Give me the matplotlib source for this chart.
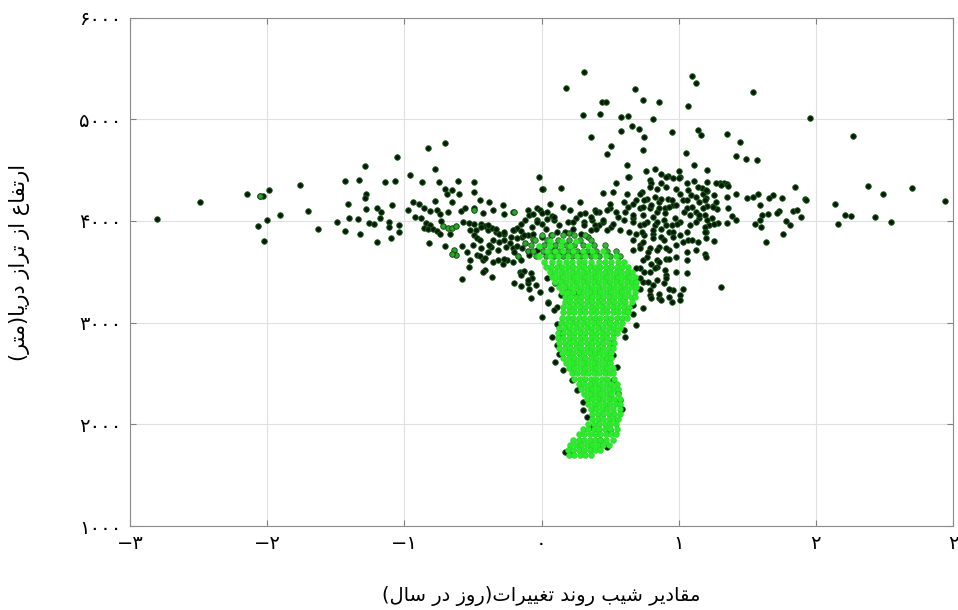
import matplotlib
matplotlib.use("Agg")
import matplotlib.pyplot as plt
import numpy as np

# slope of change (day/yr) vs elevation (m)
left_wing = [
    (-2.80, 4014), (-2.49, 4184), (-2.15, 4269), (-2.05, 4246), (-2.03, 4248), (-1.99, 4305),
    (-2.07, 3951), (-2.00, 4007), (-2.02, 3803), (-1.91, 4059), (-1.76, 4351), (-1.70, 4102),
    (-1.63, 3925), (-1.49, 3990), (-1.43, 4397), (-1.41, 4171), (-1.40, 4027), (-1.43, 3896),
    (-1.34, 4020), (-1.33, 4400), (-1.29, 4535), (-1.28, 4263), (-1.29, 4230), (-1.28, 4115),
    (-1.32, 3876), (-1.26, 3977), (-1.22, 3968), (-1.20, 4125), (-1.17, 4086), (-1.18, 4024),
    (-1.20, 3788), (-1.14, 4381), (-1.07, 4397), (-1.05, 4626), (-1.09, 4157), (-1.11, 3990),
    (-1.11, 3941), (-1.04, 3958), (-1.04, 3886), (-1.10, 3833), (-0.96, 4452), (-0.97, 4105),
]

left_centre = [
    (-0.83, 4712), (-0.70, 4767), (-0.78, 4515), (-0.87, 4378), (-0.75, 4387), (-0.61, 4393),
    (-0.49, 4378), (-0.02, 4427), (0.01, 4309), (-0.70, 4315), (-0.65, 4302), (-0.60, 4269),
    (-0.69, 4262), (-0.49, 4285), (-0.94, 4184), (-0.89, 4164), (-0.86, 4122), (-0.78, 4197),
    (-0.65, 4187), (-0.81, 4095), (-0.76, 4105), (-0.74, 4066), (-0.68, 4089), (-0.59, 4095),
    (-0.56, 4122), (-0.49, 4122), (-0.45, 4204), (-0.38, 4187), (-0.28, 4154), (-0.43, 4082),
    (-0.35, 4105), (-0.27, 4066), (-0.21, 4092), (-0.10, 4105), (-0.09, 4056), (-0.03, 4122),
    (-0.01, 4105), (0.06, 4164), (-0.92, 4039), (-0.88, 4024), (-0.84, 3980), (-0.81, 3958),
    (-0.86, 3935), (-0.83, 3925), (-0.79, 3925), (-0.73, 4000), (-0.76, 3902), (-0.74, 3869),
    (-0.67, 3869), (-0.57, 3990), (-0.53, 3980), (-0.52, 3915), (-0.48, 3915), (-0.44, 3967),
    (-0.41, 3948), (-0.39, 3915), (-0.49, 3859), (-0.47, 3836), (-0.45, 3817), (-0.82, 3784),
    (-0.70, 3751), (-0.58, 3751), (-0.54, 3695), (-0.52, 3620), (-0.53, 3548), (-0.47, 3663),
    (-0.45, 3653), (-0.43, 3614), (-0.41, 3640), (-0.39, 3695), (-0.37, 3744), (-0.36, 3935),
    (-0.33, 3892), (-0.31, 3869), (-0.27, 3876), (-0.35, 3817), (-0.31, 3794), (-0.27, 3817),
    (-0.41, 3522), (-0.36, 3449), (-0.58, 3424), (-0.32, 3620), (-0.28, 3574), (-0.25, 3614),
    (-0.23, 3778), (-0.21, 3729), (-0.18, 3751), (-0.20, 3915), (-0.18, 3935), (-0.15, 3902),
    (-0.14, 3843), (-0.10, 3859), (-0.16, 3499), (-0.15, 3483), (-0.13, 3508), (-0.08, 3489),
    (-0.07, 3443), (-0.20, 3385), (-0.15, 3358), (-0.10, 3390), (-0.06, 4066), (-0.03, 4007),
    (0.00, 3974), (0.04, 4014), (0.08, 4046),
    (0.28, 4181), (0.32, 4073), (0.39, 4105), (0.00, 4073),
    (-0.49, 3974), (-0.44, 3941), (-0.39, 3958), (-0.33, 3925), (-0.27, 3892), (-0.21, 3909),
    (-0.15, 3974), (-0.12, 4007), (-0.07, 3941), (-0.03, 3990), (0.03, 3925), (0.09, 4007),
    (0.13, 3958), (0.19, 3990), (0.25, 4024), (0.31, 3990), (0.37, 4007), (0.42, 3958),
    (-0.22, 3843), (-0.18, 3827), (-0.13, 3859), (-0.06, 3876), (0.00, 3843), (0.07, 3859),
    (0.11, 3892), (0.17, 3892), (0.23, 3925), (0.29, 3876), (0.36, 3909),
    (-0.50, 3761), (-0.44, 3729), (-0.38, 3761), (-0.32, 3712), (-0.26, 3745), (-0.20, 3695),
    (-0.14, 3729), (-0.09, 3663), (-0.03, 3712), (0.03, 3680), (0.09, 3729), (0.15, 3680),
    (0.21, 3712), (0.27, 3663), (0.33, 3695), (-0.35, 3597), (-0.27, 3630), (-0.21, 3597),
    (-0.15, 3614), (-0.43, 3499), (-0.15, 3466), (-0.10, 3417), (-0.09, 3335), (-0.04, 3368),
    (-0.01, 3302), (0.04, 3434), (0.07, 3335), (0.10, 3385), (0.14, 3270), (0.19, 3335),
    (0.25, 3286), (-0.08, 3237), (0.05, 3204), (0.11, 3155),
]

top_cluster = [
    (0.31, 5469), (0.18, 5304), (0.68, 5298), (1.10, 5422), (1.13, 5354), (0.44, 5167),
    (0.47, 5174), (0.74, 5184), (0.86, 5170), (1.07, 5131), (0.30, 5042), (0.43, 5052),
    (0.58, 5026), (0.63, 5029), (0.81, 5000), (0.66, 4931), (0.71, 4905), (0.58, 4885),
    (0.75, 4826), (0.95, 4875), (1.14, 4889), (1.16, 4843), (0.36, 4823), (0.51, 4741),
    (0.74, 4702), (0.48, 4653), (1.05, 4669), (0.62, 4551), (1.11, 4548), (0.64, 4430),
    (0.76, 4486), (0.83, 4515), (0.87, 4462), (0.92, 4439), (0.96, 4423), (1.00, 4492),
    (1.01, 4427), (1.06, 4374), (1.11, 4390), (0.54, 4371), (0.79, 4400), (0.80, 4368),
    (1.30, 4368), (1.33, 4374),
]

right_wing = [
    (1.54, 5268), (1.96, 5010), (1.35, 4850), (1.45, 4771), (1.42, 4639), (1.49, 4613),
    (1.57, 4600), (1.21, 4501), (2.27, 4833), (2.38, 4348), (2.49, 4265), (2.70, 4321),
    (2.94, 4194), (2.14, 4164), (2.21, 4059), (2.26, 4046), (2.43, 4043), (2.55, 3987),
    (2.16, 3971), (1.85, 4334), (1.92, 4220), (1.93, 4204), (1.75, 4226), (1.69, 4253),
    (1.66, 4226), (1.58, 4260), (1.54, 4236), (1.50, 4230), (1.59, 4154), (1.42, 4269),
    (1.35, 4236), (1.31, 4351), (1.35, 4361), (1.36, 4348), (1.21, 4292), (1.17, 4328),
    (1.18, 4269), (1.20, 4230), (1.21, 4145), (1.25, 4151), (1.27, 4181), (1.28, 4115),
    (1.36, 4128), (1.19, 4056), (1.24, 4029), (1.29, 3984), (1.35, 3980), (1.39, 4046),
    (1.42, 4010), (1.61, 4059), (1.65, 4066), (1.73, 4102), (1.72, 4076), (1.83, 4102),
    (1.86, 4105), (1.89, 4039), (1.56, 3974), (1.59, 4007), (1.60, 3941), (1.78, 3997),
    (1.81, 3964), (1.76, 3869), (1.64, 3791), (1.20, 3892), (1.26, 3800), (1.19, 3673),
    (1.20, 3646), (1.31, 3351),
]

right_centre = [
    (0.63, 4433), (0.91, 4433), (1.00, 4417), (0.14, 4325), (0.00, 4318), (0.84, 4318),
    (0.73, 4285), (0.98, 4318), (0.52, 4285), (0.45, 4279), (0.60, 4187), (0.63, 4138),
    (0.69, 4204), (0.77, 4220), (0.83, 4236), (0.86, 4187), (0.92, 4220), (0.96, 4154),
    (1.03, 4204), (1.09, 4253), (1.15, 4187), (0.72, 4122), (0.79, 4122), (0.84, 4089),
    (0.90, 4122), (1.06, 4122), (1.13, 4089), (0.16, 4138), (0.21, 4105), (0.28, 4063),
    (0.36, 4039), (0.42, 4089), (0.50, 4122), (0.56, 4039), (0.04, 4089), (0.09, 4039),
    (0.23, 3990), (0.31, 3958), (0.39, 3958), (0.45, 3990), (0.51, 3941), (0.60, 4007),
    (0.67, 4024), (0.72, 3958), (0.77, 3990), (0.83, 3958), (0.89, 4007), (0.95, 3958),
    (1.01, 3990), (1.08, 3958), (1.15, 4024), (1.22, 3958), (0.69, 3876), (0.75, 3859),
    (0.81, 3876), (0.87, 3843), (0.93, 3892), (1.01, 3859), (1.07, 3810), (1.14, 3794),
    (1.20, 3827), (0.72, 3761), (0.79, 3729), (0.86, 3745), (0.93, 3712), (0.98, 3761),
    (1.06, 3695), (1.13, 3712), (0.77, 3646), (0.84, 3614), (0.91, 3630), (0.98, 3646),
    (1.06, 3614), (0.72, 3532), (0.79, 3499), (0.84, 3548), (0.91, 3466), (0.98, 3499),
    (1.06, 3483), (0.74, 3400), (0.81, 3368), (0.89, 3385), (0.96, 3319), (1.03, 3335),
    (0.79, 3270), (0.86, 3237), (0.95, 3204),
    (1.21, 4383), (0.87, 4374), (0.79, 4334), (0.91, 4334), (1.07, 4302), (1.14, 4334),
    (1.20, 4302), (1.27, 4368), (0.62, 4269), (0.72, 4269), (0.75, 4204), (0.87, 4220),
    (0.95, 4204), (1.01, 4269), (1.06, 4204), (1.13, 4236), (1.19, 4204), (1.26, 4253),
    (0.50, 4171), (0.67, 4171), (0.74, 4138), (0.80, 4154), (0.86, 4122), (0.93, 4138),
    (0.98, 4154), (1.04, 4089), (1.10, 4138), (1.18, 4122), (1.25, 4138), (0.40, 4089),
    (0.48, 4105), (0.54, 4089), (0.61, 4089), (0.67, 4056), (0.74, 4056), (0.81, 4039),
    (0.90, 4073), (0.97, 4024), (1.08, 4056), (1.15, 4056), (1.21, 4007), (0.45, 4007),
    (0.52, 3974), (0.67, 3990), (0.75, 3974), (0.84, 3990), (0.91, 3958), (0.99, 3974),
    (1.13, 3990), (1.19, 3941), (1.26, 3974), (0.40, 3925), (0.48, 3909), (0.57, 3909),
    (0.64, 3892), (0.73, 3892), (0.81, 3909), (0.87, 3925), (0.96, 3892), (1.06, 3892),
    (1.19, 3892), (0.67, 3810), (0.74, 3794), (0.81, 3827), (0.89, 3810), (0.96, 3843),
    (1.03, 3794), (1.10, 3810), (0.67, 3712), (0.72, 3729), (0.78, 3695), (0.84, 3712),
    (0.91, 3729), (0.93, 3630), (0.74, 3614), (0.80, 3581), (0.86, 3597), (0.69, 3532),
    (0.75, 3499), (0.83, 3532), (0.90, 3515), (0.72, 3434), (0.78, 3400), (0.84, 3417),
    (0.91, 3434), (0.72, 3335), (0.79, 3319), (0.86, 3286), (0.93, 3335), (1.01, 3270),
    (0.80, 3237), (0.87, 3220), (0.93, 3253), (0.67, 3171), (0.74, 3139), (1.01, 3220),
]

tail_edges = [
    (0.00, 3056), (0.08, 2860), (0.10, 2614), (0.22, 2434), (0.30, 2220), (0.33, 2073),
    (0.61, 2860), (0.52, 2680), (0.59, 2155), (0.17, 1729), (0.22, 1713), (0.05, 3188),
    (0.09, 3122), (0.11, 2991), (0.14, 2893), (0.11, 2778), (0.13, 2696), (0.16, 2532),
    (0.26, 2336), (0.30, 2139), (0.36, 1975), (0.52, 2434), (0.56, 2303), (0.57, 2237),
    (0.50, 1942), (0.43, 1844), (0.48, 1778), (0.67, 3089), (0.69, 2975), (0.60, 2926),
    (0.51, 2795), (0.55, 2565),
]

mid_pts = [
    (-0.49, 4110), (-0.72, 3948), (-0.68, 3935), (-0.65, 3935), (-0.62, 3948),
    (-0.64, 3712), (-0.62, 3663), (-0.65, 3679), (-0.20, 4092), (-2.05, 4246),
    (-0.12, 3780), (-0.06, 3820), (-0.10, 3700), (-0.17, 3650), (0.20, 3880), (0.34, 3840),
]

# upper, looser part of the core (medium green)
core_upper = {
    3860: [0.00, 0.08, 0.16, 0.24, 0.32],
    3810: [-0.05, 0.04, 0.12, 0.20, 0.28, 0.36],
    3760: [-0.08, 0.02, 0.10, 0.18, 0.24, 0.30, 0.38, 0.46],
    3700: [-0.06, 0.01, 0.06, 0.13, 0.19, 0.26, 0.33, 0.40, 0.48, 0.54],
    3650: [-0.04, 0.03, 0.09, 0.16, 0.22, 0.29, 0.36, 0.42, 0.50, 0.57],
}

# dense bright core, one row per elevation level
core_rows = {
    3800: [0.06, 0.15, 0.25],
    3750: [-0.02, 0.06, 0.14, 0.21, 0.34],
    3700: [0.04, 0.10, 0.16, 0.23, 0.30, 0.37, 0.45],
    3650: [-0.02, 0.06, 0.12, 0.19, 0.26, 0.32, 0.39, 0.47, 0.54],
    3600: [0.02, 0.08, 0.13, 0.18, 0.22, 0.27, 0.31, 0.36, 0.42, 0.46, 0.51, 0.56, 0.60],
    3550: [0.03, 0.07, 0.11, 0.15, 0.19, 0.23, 0.27, 0.31, 0.35, 0.39, 0.43, 0.47, 0.51, 0.55, 0.59, 0.63],
    3500: [0.06, 0.10, 0.14, 0.18, 0.22, 0.26, 0.30, 0.34, 0.38, 0.42, 0.46, 0.50, 0.54, 0.58, 0.62, 0.66],
    3450: [0.08, 0.12, 0.16, 0.20, 0.24, 0.28, 0.32, 0.36, 0.40, 0.44, 0.48, 0.52, 0.56, 0.60, 0.64, 0.68],
    3400: [0.10, 0.14, 0.18, 0.22, 0.26, 0.30, 0.34, 0.38, 0.42, 0.46, 0.50, 0.54, 0.58, 0.62, 0.66, 0.69],
    3350: [0.13, 0.17, 0.21, 0.25, 0.29, 0.33, 0.37, 0.41, 0.45, 0.49, 0.53, 0.57, 0.61, 0.65, 0.69],
    3300: [0.15, 0.19, 0.23, 0.27, 0.31, 0.35, 0.39, 0.43, 0.47, 0.51, 0.55, 0.59, 0.63, 0.68],
    3250: [0.17, 0.21, 0.25, 0.29, 0.33, 0.37, 0.41, 0.45, 0.49, 0.53, 0.57, 0.61, 0.65, 0.68],
    3200: [0.17, 0.21, 0.25, 0.29, 0.33, 0.37, 0.41, 0.45, 0.49, 0.53, 0.57, 0.61, 0.66],
    3150: [0.16, 0.20, 0.24, 0.28, 0.32, 0.36, 0.40, 0.44, 0.48, 0.52, 0.56, 0.60, 0.64],
    3100: [0.16, 0.20, 0.24, 0.28, 0.32, 0.36, 0.40, 0.44, 0.48, 0.52, 0.56, 0.60, 0.63],
    3050: [0.15, 0.19, 0.23, 0.27, 0.31, 0.35, 0.39, 0.43, 0.47, 0.51, 0.55, 0.59, 0.62],
    3000: [0.14, 0.18, 0.22, 0.26, 0.30, 0.34, 0.38, 0.42, 0.46, 0.50, 0.54, 0.59],
    2950: [0.13, 0.17, 0.21, 0.25, 0.29, 0.33, 0.37, 0.41, 0.45, 0.49, 0.53, 0.57],
    2900: [0.12, 0.16, 0.20, 0.24, 0.28, 0.32, 0.36, 0.40, 0.44, 0.48, 0.52, 0.55],
    2850: [0.12, 0.16, 0.20, 0.24, 0.28, 0.32, 0.36, 0.40, 0.44, 0.48, 0.52],
    2800: [0.13, 0.17, 0.21, 0.25, 0.29, 0.33, 0.37, 0.41, 0.45, 0.49, 0.53],
    2750: [0.13, 0.17, 0.21, 0.25, 0.29, 0.33, 0.37, 0.41, 0.45, 0.49, 0.52],
    2700: [0.15, 0.19, 0.23, 0.27, 0.31, 0.35, 0.39, 0.43, 0.47, 0.51],
    2650: [0.16, 0.20, 0.24, 0.28, 0.32, 0.36, 0.40, 0.44, 0.48, 0.51],
    2600: [0.18, 0.22, 0.26, 0.30, 0.34, 0.38, 0.42, 0.46, 0.50],
    2550: [0.20, 0.24, 0.28, 0.32, 0.36, 0.40, 0.44, 0.48, 0.52],
    2500: [0.22, 0.26, 0.30, 0.34, 0.38, 0.42, 0.46, 0.50, 0.52],
    2450: [0.24, 0.28, 0.32, 0.36, 0.40, 0.44, 0.48, 0.53],
    2400: [0.27, 0.31, 0.35, 0.39, 0.43, 0.47, 0.51, 0.55],
    2350: [0.29, 0.33, 0.37, 0.41, 0.45, 0.49, 0.53, 0.56],
    2300: [0.31, 0.35, 0.39, 0.43, 0.47, 0.51, 0.56],
    2250: [0.33, 0.37, 0.41, 0.45, 0.49, 0.53, 0.57],
    2200: [0.34, 0.38, 0.42, 0.46, 0.50, 0.54, 0.57],
    2150: [0.36, 0.40, 0.44, 0.48, 0.52, 0.57],
    2100: [0.37, 0.41, 0.45, 0.49, 0.53, 0.57],
    2050: [0.37, 0.41, 0.45, 0.49, 0.53, 0.56],
    2000: [0.34, 0.38, 0.42, 0.46, 0.50, 0.54],
    1950: [0.30, 0.34, 0.38, 0.42, 0.46, 0.50, 0.55],
    1900: [0.27, 0.31, 0.35, 0.39, 0.43, 0.47, 0.51, 0.54],
    1850: [0.23, 0.27, 0.31, 0.35, 0.39, 0.43, 0.47, 0.52],
    1800: [0.21, 0.25, 0.29, 0.33, 0.37, 0.41, 0.45, 0.49],
    1750: [0.19, 0.23, 0.27, 0.31, 0.35, 0.39, 0.43],
    1700: [0.20, 0.24, 0.28, 0.32, 0.36],
}

x_ticks = [-3, -2, -1, 0, 1, 2, 3]
x_ticklabels = ["\u2212۳", "\u2212۲", "\u2212۱", "۰", "۱", "۲", "۲"]
y_ticks = [1000, 2000, 3000, 4000, 5000, 6000]
y_ticklabels = ["۱۰۰۰", "۲۰۰۰", "۳۰۰۰", "۴۰۰۰", "۵۰۰۰", "۶۰۰۰"]
x_label = "مقادیر شیب روند تغییرات(روز در سال)"
y_label = "ارتفاع از تراز دریا(متر)"

# presentation forms: isolated, final, initial, medial
FORMS = {
    "ا": ("\uFE8D", "\uFE8E", None, None),
    "ب": ("\uFE8F", "\uFE90", "\uFE91", "\uFE92"),
    "ت": ("\uFE95", "\uFE96", "\uFE97", "\uFE98"),
    "د": ("\uFEA9", "\uFEAA", None, None),
    "ر": ("\uFEAD", "\uFEAE", None, None),
    "ز": ("\uFEAF", "\uFEB0", None, None),
    "س": ("\uFEB1", "\uFEB2", "\uFEB3", "\uFEB4"),
    "ش": ("\uFEB5", "\uFEB6", "\uFEB7", "\uFEB8"),
    "ع": ("\uFEC9", "\uFECA", "\uFECB", "\uFECC"),
    "غ": ("\uFECD", "\uFECE", "\uFECF", "\uFED0"),
    "ف": ("\uFED1", "\uFED2", "\uFED3", "\uFED4"),
    "ق": ("\uFED5", "\uFED6", "\uFED7", "\uFED8"),
    "ل": ("\uFEDD", "\uFEDE", "\uFEDF", "\uFEE0"),
    "م": ("\uFEE1", "\uFEE2", "\uFEE3", "\uFEE4"),
    "ن": ("\uFEE5", "\uFEE6", "\uFEE7", "\uFEE8"),
    "و": ("\uFEED", "\uFEEE", None, None),
    "ی": ("\uFBFC", "\uFBFD", "\uFBFE", "\uFBFF"),
}


def shape_rtl(text):
    # matplotlib has no shaping/bidi, so join letters and reverse by hand
    out = []
    for i, ch in enumerate(text):
        if ch not in FORMS:
            out.append(ch)
            continue
        iso, fin, ini, med = FORMS[ch]
        prev = text[i - 1] if i > 0 else ""
        nxt = text[i + 1] if i + 1 < len(text) else ""
        join_prev = prev in FORMS and FORMS[prev][2] is not None
        join_next = ini is not None and nxt in FORMS
        if join_prev and join_next:
            out.append(med)
        elif join_prev:
            out.append(fin)
        elif join_next:
            out.append(ini)
        else:
            out.append(iso)
    s = "".join(reversed(out))
    return s.translate(str.maketrans("()", ")("))


def rows_to_xy(rows):
    xs = [x for y, row in rows.items() for x in row]
    ys = [y for y, row in rows.items() for x in row]
    return np.array(xs), np.array(ys)


plt.rcParams["font.family"] = ["DejaVu Sans"]

dark = np.array(left_wing + left_centre + top_cluster + right_wing + right_centre + tail_edges)
mid = np.array(mid_pts)
up_x, up_y = rows_to_xy(core_upper)
core_x, core_y = rows_to_xy(core_rows)

fig = plt.figure(figsize=(9.58, 6.10), dpi=100)
ax = fig.add_axes([130 / 958, 1 - 526 / 610, 823 / 958, 508.5 / 610])

ax.scatter(dark[:, 0], dark[:, 1], s=16, c="#071a07", edgecolors="#1e5e1e",
           linewidths=0.6, zorder=3)
ax.scatter(mid[:, 0], mid[:, 1], s=16, c="#2aa52a", edgecolors="#0c3a0c",
           linewidths=0.6, zorder=3)
ax.scatter(up_x, up_y, s=16, c="#30b830", edgecolors="#145214",
           linewidths=0.5, zorder=3)
ax.scatter(core_x, core_y, s=18, c="#2bec2b", edgecolors="#27c827",
           linewidths=0.3, zorder=4)

ax.set_xlim(-3, 3)
ax.set_ylim(1000, 6000)
ax.set_xticks(x_ticks)
ax.set_xticklabels(x_ticklabels, fontsize=14)
ax.set_yticks(y_ticks)
ax.set_yticklabels(y_ticklabels, fontsize=14)
ax.tick_params(direction="in", top=True, right=True, length=4, width=0.8,
               color="#808080", pad=6)
ax.grid(True, color="#e0e0e0", linewidth=0.8)
ax.set_axisbelow(True)
for sp in ax.spines.values():
    sp.set_color("#8c8c8c")
    sp.set_linewidth(0.8)

fig.text(541 / 958, 1 - 596 / 610, shape_rtl(x_label), ha="center", va="center",
         fontsize=14)
fig.text(20 / 958, 1 - 262 / 610, shape_rtl(y_label), ha="center", va="center",
         rotation=90, fontsize=15)

fig.savefig("out.png", dpi=100)
